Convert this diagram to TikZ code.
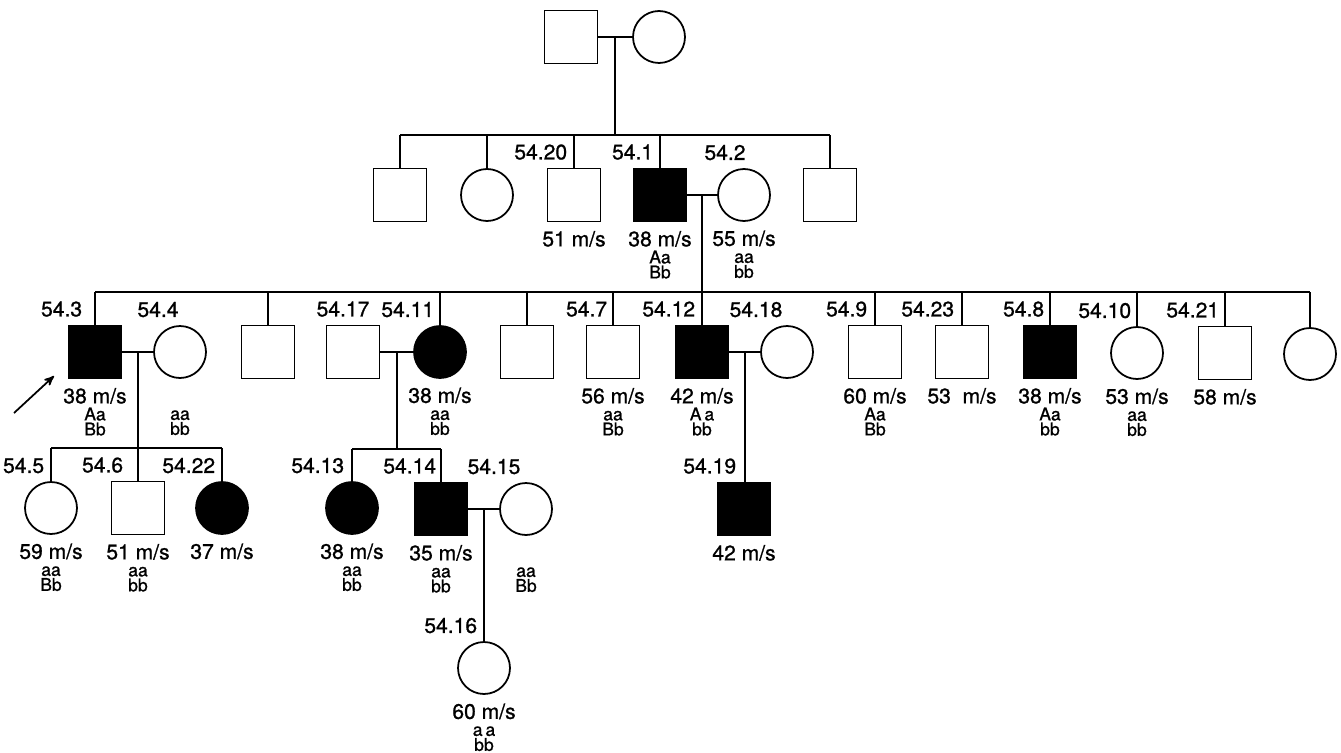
\documentclass[tikz,border=0pt]{standalone}
\usepackage{fontspec}
\setmainfont{TeX Gyre Heros}[FakeBold=1]
\usetikzlibrary{arrows,calc}

% id number above a symbol: left of the line, or centred
\newcommand{\pid}[3]{\node[idtext,anchor=south east] (#1n) at ($(#1.north)+(#2,-7)$) {#3};}
\newcommand{\pidc}[3]{\node[idtext,anchor=south] (#1n) at ($(#1.north)+(#2,-7)$) {#3};}
% conduction velocity and genotype under a symbol
\newcommand{\speed}[2]{\node[mstext] (#1v) at ($(#1.south)+(0,24)$) {#2};}
\newcommand{\geno}[3]{\node[genotext] (#1a) at ($(#1.south)+(0,41)$) {#2};
  \node[genotext] (#1b) at ($(#1.south)+(0,56)$) {#3};}

\begin{document}
\begin{tikzpicture}[x=0.02cm,y=-0.02cm,line width=1pt,>=stealth',
  male/.style={rectangle,draw,minimum size=1.06cm,inner sep=0pt},
  female/.style={circle,draw,minimum size=1.04cm,inner sep=0pt},
  affected/.style={fill=black},
  idtext/.style={font=\fontsize{12}{14}\selectfont,inner sep=0pt},
  mstext/.style={font=\fontsize{12}{14}\selectfont,inner sep=0pt,anchor=base},
  genotext/.style={font=\fontsize{10}{11}\selectfont,inner sep=0pt,anchor=base}]

  \useasboundingbox (0,0) rectangle (1341,753);

  % generation I
  \node[male] (f0) at (571,37) {};
  \node[female] (m0) at (659,37) {};

  % generation II
  \node[male] (u1) at (400,195) {};
  \node[female] (u2) at (487,195) {};
  \node[male] (p20) at (574,195) {};
  \node[male,affected] (p1) at (660,195) {};
  \node[female] (p2) at (744,195) {};
  \node[male] (u3) at (830,195) {};

  % generation III
  \node[male,affected] (p3) at (95,352) {};
  \node[female] (p4) at (180,352) {};
  \node[male] (u4) at (268,352) {};
  \node[male] (p17) at (353,352) {};
  \node[female,affected] (p11) at (440,352) {};
  \node[male] (u5) at (527,352) {};
  \node[male] (p7) at (613,352) {};
  \node[male,affected] (p12) at (702,352) {};
  \node[female] (p18) at (787,352) {};
  \node[male] (p9) at (875,352) {};
  \node[male] (p23) at (962,352) {};
  \node[male,affected] (p8) at (1050,352) {};
  \node[female] (p10) at (1137,353) {};
  \node[male] (p21) at (1225,353) {};
  \node[female] (u6) at (1310,354) {};

  % generation IV
  \node[female] (p5) at (51,508) {};
  \node[male] (p6) at (138,508) {};
  \node[female,affected] (p22) at (222,508) {};
  \node[female,affected] (p13) at (352,508) {};
  \node[male,affected] (p14) at (441,509) {};
  \node[female] (p15) at (526,509) {};
  \node[male,affected] (p19) at (744,509) {};

  % generation V
  \node[female] (p16) at (484,668) {};

  % id numbers
  \pid{p20}{-6}{54.20}
  \pid{p1}{-6}{54.1}
  \pidc{p2}{-19}{54.2}
  \pid{p3}{-12}{54.3}
  \pidc{p4}{-22}{54.4}
  \pidc{p17}{-10}{54.17}
  \pid{p11}{-5}{54.11}
  \pid{p7}{-5}{54.7}
  \pid{p12}{-6}{54.12}
  \pidc{p18}{-31}{54.18}
  \pid{p9}{-7}{54.9}
  \pid{p23}{-7}{54.23}
  \pid{p8}{-5}{54.8}
  \pid{p10}{-5}{54.10}
  \pid{p21}{-5}{54.21}
  \pid{p5}{-6}{54.5}
  \pid{p6}{-14}{54.6}
  \pid{p22}{-6}{54.22}
  \pid{p13}{-7}{54.13}
  \pid{p14}{-4}{54.14}
  \pidc{p15}{-32}{54.15}
  \pid{p19}{-7}{54.19}
  \pid{p16}{-6}{54.16}

  % velocities
  \speed{p20}{51 m/s}
  \speed{p1}{38 m/s}
  \speed{p2}{55 m/s}
  \speed{p3}{38 m/s}
  \speed{p11}{38 m/s}
  \speed{p7}{56 m/s}
  \speed{p12}{42 m/s}
  \speed{p9}{60 m/s}
  \speed{p23}{53~~m/s}
  \speed{p8}{38 m/s}
  \speed{p10}{53 m/s}
  \speed{p21}{58 m/s}
  \speed{p5}{59 m/s}
  \speed{p6}{51 m/s}
  \speed{p22}{37 m/s}
  \speed{p13}{38 m/s}
  \speed{p14}{35 m/s}
  \speed{p19}{42 m/s}
  \speed{p16}{60 m/s}

  % genotypes
  \geno{p1}{Aa}{Bb}
  \geno{p2}{aa}{bb}
  \geno{p3}{Aa}{Bb}
  \geno{p4}{aa}{bb}
  \geno{p11}{aa}{bb}
  \geno{p7}{aa}{Bb}
  \geno{p12}{A\,a}{bb}
  \geno{p9}{Aa}{Bb}
  \geno{p8}{Aa}{bb}
  \geno{p10}{aa}{bb}
  \geno{p5}{aa}{Bb}
  \geno{p6}{aa}{bb}
  \geno{p13}{aa}{bb}
  \geno{p14}{aa}{bb}
  \geno{p15}{aa}{Bb}
  \geno{p16}{a\,a}{bb}

  % marriages and sibships
  \draw (f0.east) -- (m0.west);
  \coordinate (c0) at ($(f0.east)!0.5!(m0.west)$);
  \coordinate (s1) at (0,135);
  \draw (c0) -- (c0 |- s1);
  \draw (u1.north |- s1) -- (u3.north |- s1);
  \foreach \n in {u1,u2,p20,p1,u3}
    \draw (\n.north) -- (\n.north |- s1);

  \draw (p1.east) -- (p2.west);
  \coordinate (c1) at ($(p1.east)!0.5!(p2.west)$);
  \coordinate (s2) at (0,292);
  \draw (c1) -- (c1 |- s2);
  \draw (p3.north |- s2) -- (u6.north |- s2);
  \foreach \n in {p3,u4,p11,u5,p7,p12,p9,p23,p8,p10,p21,u6}
    \draw (\n.north) -- (\n.north |- s2);

  \draw (p3.east) -- (p4.west);
  \coordinate (c3) at ($(p3.east)!0.5!(p4.west)$);
  \coordinate (s3) at (0,448);
  \draw (c3) -- (c3 |- s3);
  \draw (p5.north |- s3) -- (p22.north |- s3);
  \foreach \n in {p5,p6,p22}
    \draw (\n.north) -- (\n.north |- s3);

  \draw (p17.east) -- (p11.west);
  \coordinate (c4) at ($(p17.east)!0.5!(p11.west)$);
  \coordinate (s4) at (0,449);
  \draw (c4) -- (c4 |- s4);
  \draw (p13.north |- s4) -- (p14.north |- s4);
  \foreach \n in {p13,p14}
    \draw (\n.north) -- (\n.north |- s4);

  \draw (p12.east) -- (p18.west);
  \coordinate (c5) at ($(p12.east)!0.5!(p18.west)$);
  \draw (c5) -- (c5 |- p19.north);

  \draw (p14.east) -- (p15.west);
  \coordinate (c6) at ($(p14.east)!0.5!(p15.west)$);
  \draw (c6) -- (c6 |- p16.north);

  % proband
  \coordinate (pt) at (14,413);
  \coordinate (ph) at (54,376);
  \draw[->,line width=1pt] (pt) -- (ph);

\end{tikzpicture}
\end{document}
